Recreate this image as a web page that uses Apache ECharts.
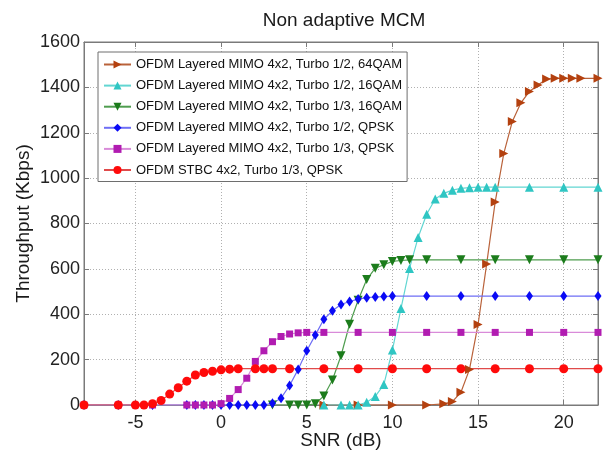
<!DOCTYPE html>
<html>
<head>
<meta charset="utf-8">
<script src="https://cdn.jsdelivr.net/npm/echarts@6/dist/echarts.min.js"></script>
<style>
html,body{margin:0;padding:0;background:#fff;}
#chart{width:603px;height:450px;}
</style>
</head>
<body>
<div id="chart"></div>
<script>
// ---- data ----
var seriesNames = [
  'OFDM Layered MIMO 4x2, Turbo 1/2, 64QAM',
  'OFDM Layered MIMO 4x2, Turbo 1/2, 16QAM',
  'OFDM Layered MIMO 4x2, Turbo 1/3, 16QAM',
  'OFDM Layered MIMO 4x2, Turbo 1/2, QPSK',
  'OFDM Layered MIMO 4x2, Turbo 1/3, QPSK',
  'OFDM STBC 4x2, Turbo 1/3, QPSK'
];
var snr64qam12 = [6, 8, 10, 12, 13, 13.5, 14, 14.5, 15, 15.5, 16, 16.5, 17, 17.5, 18, 18.5, 19, 19.5, 20, 20.5, 21, 22];
var thr64qam12 = [0, 0, 0, 0, 5, 15, 56, 157, 355, 621, 895, 1108, 1250, 1332, 1382, 1410, 1437, 1440, 1440, 1440, 1440, 1440];

var snr16qam12 = [6, 7, 7.5, 8, 8.5, 9, 9.5, 10, 10.5, 11, 11.5, 12, 12.5, 13, 13.5, 14, 14.5, 15, 15.5, 16, 18, 20, 22];
var thr16qam12 = [0, 0, 0, 0, 12, 38, 90, 242, 425, 602, 738, 841, 908, 933, 947, 955, 958, 960, 960, 960, 960, 960, 960];

var snr16qam13 = [3, 4, 4.5, 5, 5.5, 6, 6.5, 7, 7.5, 8, 8.5, 9, 9.5, 10, 10.5, 11, 12, 14, 16, 18, 20, 22];
var thr16qam13 = [0, 0, 0, 0, 5, 40, 110, 217, 356, 462, 553, 603, 618, 633, 637, 640, 640, 640, 640, 640, 640, 640];

var snrQpsk12 = [-8, -6, -4, -2, -1.5, -1, -0.5, 0, 0.5, 1, 1.5, 2, 2.5, 3, 3.5, 4, 4.5, 5, 5.5, 6, 6.5, 7, 7.5, 8, 8.5, 9, 9.5, 10, 12, 14, 16, 18, 20, 22];
var thrQpsk12 = [0, 0, 0, 0, 0, 0, 0, 0, 0, 0, 0, 0, 0, 8, 30, 86, 157, 239, 308, 378, 415, 443, 456, 467, 473, 476, 478, 480, 480, 480, 480, 480, 480, 480];

var snrQpsk13 = [-8, -6, -4, -2, -1.5, -1, -0.5, 0, 0.5, 1, 1.5, 2, 2.5, 3, 3.5, 4, 4.5, 5, 6, 8, 10, 12, 14, 16, 18, 20, 22];
var thrQpsk13 = [0, 0, 0, 0, 0, 0, 0, 6, 29, 68, 118, 192, 239, 279, 302, 313, 318, 320, 320, 320, 320, 320, 320, 320, 320, 320, 320];

var snrStbc = [-8, -6, -5, -4.5, -4, -3.5, -3, -2.5, -2, -1.5, -1, -0.5, 0, 0.5, 1, 2, 2.5, 3, 4, 6, 8, 10, 12, 14, 16, 18, 20, 22];
var thrStbc = [0, 0, 0, 0, 6, 20, 48, 76, 105, 132, 143, 149, 155, 158, 160, 160, 160, 160, 160, 160, 160, 160, 160, 160, 160, 160, 160, 160];

var yTicks = [0, 200, 400, 600, 800, 1000, 1200, 1400, 1600];

// ---- chart ----
function pairs(xs, ys) { return xs.map(function (x, i) { return [x, ys[i]]; }); }

var styles = [
  { line: '#b9623a', mark: '#b4410f', symbol: 'triangle', rotate: -90, size: 9 },
  { line: '#62d6d2', mark: '#2fc6c3', symbol: 'triangle', rotate: 0, size: 9 },
  { line: '#4f9d4f', mark: '#1c7c1c', symbol: 'triangle', rotate: 180, size: 9 },
  { line: '#6f6ff5', mark: '#0a0af5', symbol: 'diamond', rotate: 0, size: [7, 10] },
  { line: '#d98bd9', mark: '#b11cb1', symbol: 'rect', rotate: 0, size: 7 },
  { line: '#e04a4a', mark: '#ff0a0a', symbol: 'circle', rotate: 0, size: 9 }
];
var dataSets = [
  pairs(snr64qam12, thr64qam12),
  pairs(snr16qam12, thr16qam12),
  pairs(snr16qam13, thr16qam13),
  pairs(snrQpsk12, thrQpsk12),
  pairs(snrQpsk13, thrQpsk13),
  pairs(snrStbc, thrStbc)
];

var series = dataSets.map(function (d, i) {
  var s = styles[i];
  return {
    name: seriesNames[i],
    type: 'line',
    data: d,
    symbol: s.symbol,
    symbolSize: s.size,
    symbolRotate: s.rotate,
    showAllSymbol: true,
    animation: false,
    lineStyle: { color: s.line, width: 1.2 },
    itemStyle: { color: s.mark },
    emphasis: { disabled: true }
  };
});

var FONT = 'Liberation Sans, Arial, Helvetica, sans-serif';
var gridLine = { show: true, lineStyle: { color: '#b0b0b0', type: [1, 2], width: 1 } };
var boxLine = { show: true, onZero: false, lineStyle: { color: '#7a7a7a', width: 1 } };
var tickIn = { show: true, inside: true, length: 5, lineStyle: { color: '#7a7a7a' } };

var chart = echarts.init(document.getElementById('chart'), null, { renderer: 'canvas' });
chart.setOption({
  backgroundColor: '#ffffff',
  animation: false,
  title: {
    text: 'Non adaptive MCM',
    left: 339, top: 6, textAlign: 'center',
    textStyle: { fontFamily: FONT, fontSize: 19, fontWeight: 'normal', color: '#1a1a1a' }
  },
  grid: { left: 84, right: 5, top: 42, bottom: 45, containLabel: false, outerBoundsMode: 'none',
          show: true, borderColor: '#7a7a7a', borderWidth: 1, backgroundColor: '#fff' },
  legend: {
    orient: 'vertical',
    left: 98, top: 52,
    padding: [6, 5, 5, 5],
    itemWidth: 27, itemHeight: 10, itemGap: 8.1,
    backgroundColor: '#ffffff',
    borderColor: '#6e6e6e', borderWidth: 1,
    textStyle: { fontFamily: FONT, fontSize: 13, color: '#111' },
    data: seriesNames
  },
  xAxis: [{
    type: 'value', min: -8, max: 22,
    name: 'SNR (dB)', nameLocation: 'middle', nameGap: 26, nameMoveOverlap: false,
    nameTextStyle: { fontFamily: FONT, fontSize: 19, color: '#1a1a1a' },
    axisLine: boxLine,
    axisTick: tickIn,
    axisLabel: { fontFamily: FONT, fontSize: 18, color: '#222', margin: 9, showMinLabel: false, showMaxLabel: false,
                 formatter: function (v) { return String(v); } },
    splitLine: gridLine
  }, {
    type: 'value', min: -8, max: 22, position: 'top',
    axisLine: boxLine,
    axisTick: tickIn,
    axisLabel: { show: false }, splitLine: { show: false }
  }],
  yAxis: [{
    type: 'value', min: yTicks[0], max: yTicks[yTicks.length - 1], interval: 200,
    name: 'Throughput (Kbps)', nameLocation: 'middle', nameGap: 51, nameRotate: 90, nameMoveOverlap: false,
    nameTextStyle: { fontFamily: FONT, fontSize: 19, color: '#1a1a1a' },
    axisLine: boxLine,
    axisTick: tickIn,
    axisLabel: { fontFamily: FONT, fontSize: 18, color: '#222', margin: 4,
                 formatter: function (v) { return String(v); } },
    splitLine: gridLine
  }, {
    type: 'value', min: yTicks[0], max: yTicks[yTicks.length - 1], interval: 200, position: 'right',
    axisLine: boxLine,
    axisTick: tickIn,
    axisLabel: { show: false }, splitLine: { show: false }
  }],
  series: series
});
</script>
</body>
</html>
